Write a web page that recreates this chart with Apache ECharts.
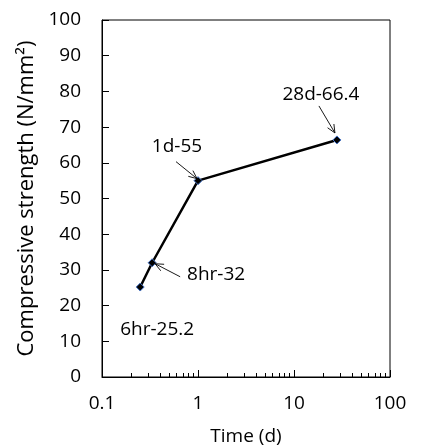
<!DOCTYPE html>
<html><head><meta charset="utf-8">
<script src="https://cdn.jsdelivr.net/npm/echarts@6/dist/echarts.min.js"></script>
<style>html,body{margin:0;padding:0;background:#fff}#c{width:422px;height:446px}</style>
</head><body><div id="c"></div>
<script>
// ---- data ----
const times = [0.25, 0.333, 1, 28];          // days
const strength = [25.2, 32, 55, 66.4];       // N/mm2
const pointLabels = ['6hr-25.2', '8hr-32', '1d-55', '28d-66.4'];
const xTickLabels = ['0.1', '1', '10', '100'];
const yTicks = [0, 10, 20, 30, 40, 50, 60, 70, 80, 90, 100];

// ---- styling (pixel offsets of annotation text / arrows relative to points) ----
const labelOffsets = [[17, 43], [64, 12], [-21, -34], [-16, -45]];
const arrowOffsets = [null, [[28, 14], [3, 1]], [[-22, -19], [-1, -2]], [[-18, -34], [-2, -7]]];

const FONT = 'Open Sans';
const FS = 19;
const chart = echarts.init(document.getElementById('c'), null, {renderer: 'canvas'});

const seriesData = times.map((t, i) => [t, strength[i]]);

chart.setOption({
  animation: false,
  backgroundColor: '#fff',
  grid: {left: 102, right: 32, top: 20, bottom: 69, outerBoundsMode: 'none', containLabel: false,
    show: true, borderColor: '#000', borderWidth: 1, backgroundColor: 'transparent'},
  xAxis: [{
    type: 'log', logBase: 10, min: 0.1, max: 100,
    name: 'Time (d)', nameLocation: 'middle', nameGap: 50,
    nameTextStyle: {fontFamily: FONT, fontSize: FS, color: '#000'},
    axisLine: {show: true, lineStyle: {color: '#000', width: 1}},
    axisTick: {show: true, inside: true, length: 7, lineStyle: {color: '#000'}},
    minorTick: {show: true, splitNumber: 9, length: 4, lineStyle: {color: '#000'}},
    axisLabel: {fontFamily: FONT, fontSize: FS, color: '#000', margin: 17,
      formatter: v => { const k = Math.round(Math.log10(v)) + 1; return xTickLabels[k] !== undefined ? xTickLabels[k] : ''; }},
    splitLine: {show: false}, minorSplitLine: {show: false}
  }],
  yAxis: [{
    type: 'value', min: yTicks[0], max: yTicks[yTicks.length - 1], interval: yTicks[1] - yTicks[0],
    name: 'Compressive strength (N/mm²)', nameLocation: 'middle', nameGap: 60,
    nameTextStyle: {fontFamily: FONT, fontSize: 22, color: '#000'},
    axisLine: {show: true, lineStyle: {color: '#000', width: 1}},
    axisTick: {show: true, inside: true, length: 7, lineStyle: {color: '#000'}},
    axisLabel: {fontFamily: FONT, fontSize: FS, color: '#000', margin: 21},
    splitLine: {show: false}
  }],
  series: [{
    type: 'line',
    data: seriesData,
    symbol: 'diamond', symbolSize: 8,
    lineStyle: {color: '#000', width: 2.5},
    itemStyle: {color: '#000', borderColor: '#4472C4', borderWidth: 1},
    label: {show: true, position: 'inside', fontFamily: FONT, fontSize: FS, color: '#000',
      formatter: p => pointLabels[p.dataIndex]},
    labelLayout: p => {
      const o = labelOffsets[p.dataIndex];
      return {x: p.rect.x + p.rect.width / 2 + o[0], y: p.rect.y + p.rect.height / 2 + o[1], align: 'center', verticalAlign: 'middle'};
    },
    emphasis: {disabled: true}
  }]
});

// arrows from annotation text to the points, positioned via the chart's own scales
const graphics = [];
seriesData.forEach((d, i) => {
  const a = arrowOffsets[i];
  if (!a) return;
  const p = chart.convertToPixel({seriesIndex: 0}, d);
  const tx = p[0] + a[0][0], ty = p[1] + a[0][1];
  const hx = p[0] + a[1][0], hy = p[1] + a[1][1];
  const ang = Math.atan2(hy - ty, hx - tx);
  const L = 9, w = 0.42;
  const l1 = [hx - L * Math.cos(ang - w), hy - L * Math.sin(ang - w)];
  const l2 = [hx - L * Math.cos(ang + w), hy - L * Math.sin(ang + w)];
  const st = {stroke: '#000', lineWidth: 0.9, fill: null};
  graphics.push({type: 'line', shape: {x1: tx, y1: ty, x2: hx, y2: hy}, style: st, z: 10});
  graphics.push({type: 'polyline', shape: {points: [l1, [hx, hy], l2]}, style: st, z: 10});
});
chart.setOption({graphic: graphics});
</script>
</body></html>
